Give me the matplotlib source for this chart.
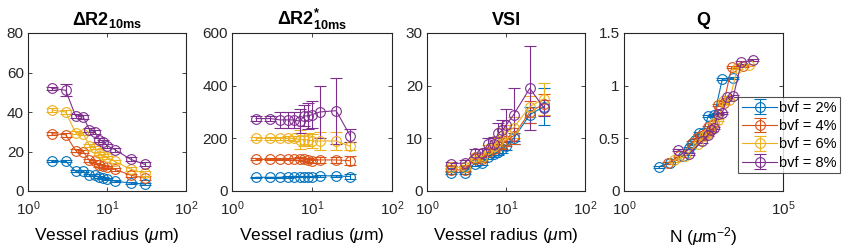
import matplotlib
matplotlib.use('Agg')
import matplotlib.pyplot as plt
from matplotlib.ticker import NullLocator, FixedLocator

plt.rcParams['font.family'] = ['Liberation Sans', 'DejaVu Sans']
plt.rcParams['mathtext.fontset'] = 'custom'
plt.rcParams['mathtext.rm'] = 'Liberation Sans'
plt.rcParams['mathtext.bf'] = 'Liberation Sans:bold'
plt.rcParams['mathtext.it'] = 'Liberation Sans:italic'

# Vessel radius (um), shared by the first three panels
radius = [2, 3, 4, 5, 6, 7, 8, 9, 10, 12.5, 20, 30]
labels = ['bvf = 2%', 'bvf = 4%', 'bvf = 6%', 'bvf = 8%']
colors = ['#0072BD', '#D95319', '#EDB120', '#7E2F8E']

# dR2 (10 ms)
dr2 = [
    [15, 15, 10, 10, 8, 8, 7, 6.5, 6, 5, 4, 3.5],
    [29, 28.5, 20.5, 20, 15.5, 15, 13, 12.5, 12, 11, 8, 6.5],
    [41, 40, 29.5, 29, 23, 22, 19, 18, 17, 15, 11, 9],
    [52, 51, 38, 37.5, 31, 30, 26, 25, 23, 21, 16, 13.5],
]
dr2_err = [
    [0.5, 0.5, 0.5, 0.5, 0.5, 0.5, 0.5, 0.5, 0.5, 0.5, 0.5, 0.7],
    [0.7, 1, 0.7, 0.7, 0.7, 0.7, 0.7, 0.7, 0.7, 0.7, 0.8, 1],
    [0.8, 1.2, 0.8, 0.8, 0.8, 0.8, 0.8, 0.8, 0.8, 0.8, 1, 1.2],
    [0.8, 3, 1, 1, 1, 1, 1, 1, 1, 1, 1, 1],
]

# dR2* (10 ms)
dr2s = [
    [52, 52, 52, 53, 55, 55, 55, 55, 55, 58, 57, 55],
    [120, 120, 120, 120, 122, 123, 120, 118, 115, 118, 118, 115],
    [200, 200, 200, 200, 200, 195, 195, 195, 190, 190, 190, 170],
    [275, 275, 270, 270, 270, 265, 285, 285, 290, 300, 305, 210],
]
dr2s_err = [
    [3, 3, 3, 3, 3, 3, 3, 3, 3, 4, 5, 8],
    [4, 4, 4, 4, 5, 5, 5, 8, 8, 10, 12, 18],
    [6, 6, 6, 8, 10, 35, 25, 25, 25, 35, 35, 15],
    [10, 10, 30, 30, 30, 45, 40, 50, 50, 100, 125, 25],
]

# VSI
vsi = [
    [3.5, 3.5, 5.2, 5.3, 6.5, 7, 7.5, 8, 8.5, 10, 14.5, 16],
    [4, 4, 6, 6, 7.5, 8, 8.5, 9, 9.5, 10.5, 15, 16.5],
    [4.5, 4.5, 6.5, 6.5, 8, 8.5, 9.5, 10.5, 11, 12, 16, 17.5],
    [5.2, 5.3, 7.2, 7.2, 9, 9, 11, 11.5, 12.5, 14.5, 19.5, 15.8],
]
vsi_err = [
    [0.3, 0.3, 0.4, 0.4, 0.5, 0.5, 0.6, 0.7, 0.8, 1, 1.5, 3.5],
    [0.3, 0.3, 0.5, 0.5, 0.6, 0.7, 0.8, 1, 1, 1.5, 2, 2],
    [0.4, 0.4, 0.5, 0.6, 0.8, 1, 1, 1.5, 1.5, 2, 2, 3],
    [0.4, 0.5, 0.8, 0.8, 1, 1.2, 2, 2, 3, 5, 8, 1.5],
]

# Q vs vessel density N (um^-2)
n_dens = [
    [2750, 1230, 690, 440, 308, 224, 172, 136, 110, 70, 27.5, 12.3],
    [5500, 2450, 1380, 880, 615, 450, 345, 272, 220, 140, 55, 24.6],
    [8300, 3700, 2070, 1320, 920, 670, 520, 410, 330, 210, 83, 37],
    [11000, 4900, 2750, 1760, 1230, 890, 690, 545, 440, 280, 110, 49],
]
q_val = [
    [1.07, 1.06, 0.72, 0.71, 0.55, 0.55, 0.48, 0.45, 0.41, 0.33, 0.27, 0.23],
    [1.19, 1.18, 0.84, 0.82, 0.63, 0.61, 0.54, 0.52, 0.51, 0.46, 0.33, 0.27],
    [1.20, 1.17, 0.86, 0.85, 0.67, 0.65, 0.57, 0.54, 0.52, 0.45, 0.33, 0.29],
    [1.24, 1.22, 0.90, 0.89, 0.74, 0.73, 0.60, 0.58, 0.53, 0.47, 0.35, 0.39],
]
q_err = [
    [0.01] * 12,
    [0.01] * 12,
    [0.01] * 12,
    [0.01] * 12,
]

fig = plt.figure(figsize=(8.43, 2.48), dpi=100)
boxes = [
    [28 / 843, 57 / 248, 158 / 843, 158 / 248],
    [232 / 843, 57 / 248, 160 / 843, 158 / 248],
    [427 / 843, 57 / 248, 158 / 843, 158 / 248],
    [624 / 843, 57 / 248, 159 / 843, 158 / 248],
]
axes = [fig.add_axes(b) for b in boxes]

panels = [
    (radius, dr2, dr2_err, r'$\mathbf{\Delta R2_{10ms}}$', (0, 80), [0, 20, 40, 60, 80]),
    (radius, dr2s, dr2s_err, r'$\mathbf{\Delta R2^{*}_{10ms}}$', (0, 600), [0, 200, 400, 600]),
    (radius, vsi, vsi_err, 'VSI', (0, 30), [0, 10, 20, 30]),
    (None, q_val, q_err, 'Q', (0, 1.5), [0, 0.5, 1, 1.5]),
]

for k, (ax, (xs, ys, errs, title, ylim, yt)) in enumerate(zip(axes, panels)):
    for i in range(4):
        x = n_dens[i] if xs is None else xs
        ax.errorbar(x, ys[i], yerr=errs[i], color=colors[i], marker='o',
                    markersize=7, markerfacecolor='none', markeredgewidth=0.8,
                    linewidth=0.8, elinewidth=0.8, capsize=4, capthick=0.8,
                    label=labels[i])
    ax.set_xscale('log')
    ax.set_ylim(*ylim)
    ax.set_yticks(yt)
    if k == 3:
        ax.set_xlim(1, 1e5)
        ax.xaxis.set_major_locator(FixedLocator([1, 1e5]))
        ax.set_yticklabels(['0', '0.5', '1', '1.5'])
        ax.set_xlabel(r'N ($\mu$m$^{-2}$)', fontsize=12.5, labelpad=5)
        leg = ax.legend(loc='upper left', bbox_to_anchor=(0.72, 0.595),
                        fontsize=10.5, frameon=True, fancybox=False,
                        edgecolor='#262626', borderpad=0.25, labelspacing=0.3,
                        handlelength=2.4, handletextpad=0.15, borderaxespad=0)
        leg.get_frame().set_linewidth(0.8)
        leg.set_zorder(10)
    else:
        ax.set_xlabel(r'Vessel radius ($\mu$m)', fontsize=12.5, labelpad=6)
        ax.set_xlim(1, 100)
        ax.xaxis.set_major_locator(FixedLocator([1, 10, 100]))
    ax.xaxis.set_minor_locator(NullLocator())
    ax.tick_params(direction='in', top=True, right=True, labelsize=11,
                   length=3, width=0.6, colors='#262626', pad=3)
    ax.tick_params(axis='x', pad=6)
    for s in ax.spines.values():
        s.set_linewidth(0.8)
        s.set_color('#262626')
    ax.set_title(title, fontsize=13, fontweight='bold', pad=6)

fig.savefig('out.png', dpi=100)
